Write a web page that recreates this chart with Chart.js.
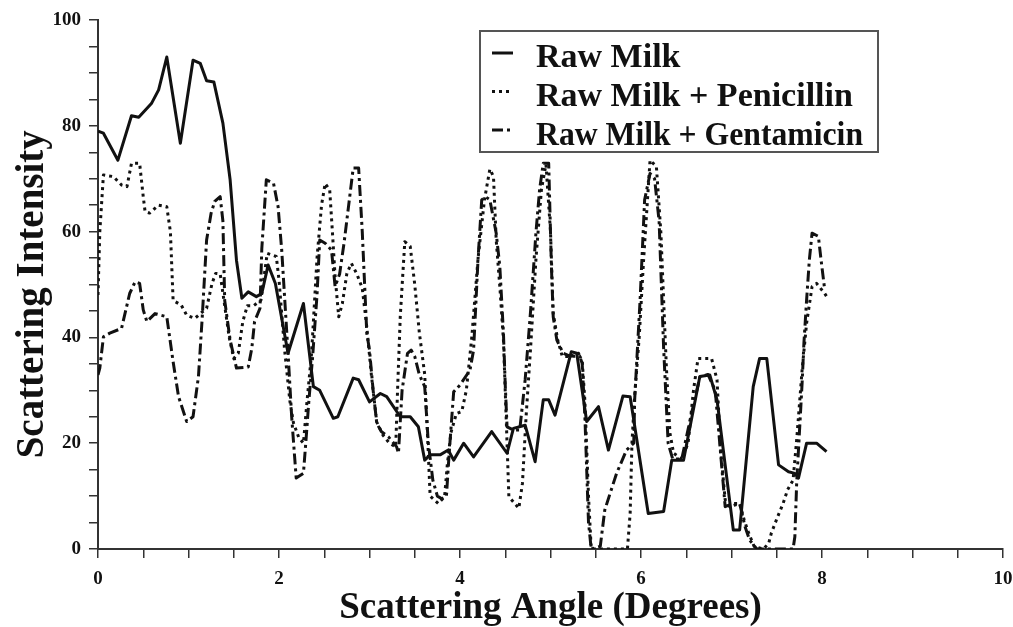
<!DOCTYPE html>
<html>
<head>
<meta charset="utf-8">
<script src="https://cdn.jsdelivr.net/npm/chart.js@4/dist/chart.umd.min.js"></script>
<style>
html,body{margin:0;padding:0;background:#fff;}
#wrap{width:1013px;height:627px;}
</style>
</head>
<body>
<div id="wrap"><canvas id="c" width="1013" height="627"></canvas></div>
<script>
// ---- data ----
const seriesNames = ["Raw Milk", "Raw Milk + Penicillin", "Raw Milk + Gentamicin"];
const xTitle = "Scattering Angle (Degrees)";
const yTitle = "Scattering Intensity";

const rawX = [0,0.06,0.22,0.37,0.45,0.59,0.67,0.76,0.91,1.05,1.13,1.20,1.28,1.38,1.46,1.53,1.59,1.66,1.75,1.81,1.88,1.96,2.10,2.27,2.38,2.45,2.60,2.65,2.82,2.88,3.00,3.12,3.19,3.34,3.45,3.54,3.61,3.67,3.78,3.87,3.93,4.04,4.15,4.35,4.52,4.59,4.72,4.83,4.92,4.98,5.05,5.23,5.29,5.40,5.53,5.64,5.80,5.88,6.08,6.25,6.34,6.47,6.65,6.76,6.84,7.02,7.09,7.24,7.31,7.39,7.52,7.63,7.70,7.74,7.83,7.94,8.05];
const rawY = [79,78.6,73.5,81.9,81.6,84.2,86.8,93,76.7,92.4,91.8,88.5,88.3,80.5,69.8,54.6,47.4,48.6,47.7,48.3,53.7,50.2,37,46.4,30.7,30,24.7,25,32.3,32,27.8,29.4,28.8,25,25,23.1,16.8,17.8,17.8,18.7,16.8,20,17.4,22.2,18.1,22.8,23.4,16.5,28.2,28.2,25.3,37.3,37,24.1,26.9,18.7,28.9,28.8,6.7,7.1,16.8,16.8,32.6,32.9,28.2,3.6,3.6,30.7,36,36,15.9,14.6,14.3,13.4,20,20,18.4];

const penX = [0,0.02,0.06,0.17,0.26,0.32,0.37,0.46,0.50,0.52,0.57,0.67,0.76,0.80,0.83,0.92,0.98,1.07,1.20,1.26,1.30,1.35,1.40,1.45,1.50,1.55,1.60,1.65,1.72,1.80,1.87,1.97,2.00,2.06,2.12,2.16,2.22,2.27,2.31,2.36,2.42,2.47,2.51,2.56,2.59,2.62,2.66,2.70,2.75,2.80,2.86,2.92,2.97,3.02,3.08,3.15,3.22,3.29,3.31,3.34,3.39,3.45,3.50,3.55,3.61,3.64,3.67,3.76,3.83,3.86,3.90,3.96,4.02,4.07,4.13,4.20,4.27,4.33,4.37,4.40,4.44,4.48,4.51,4.54,4.65,4.69,4.73,4.78,4.84,4.90,4.95,5.00,5.03,5.08,5.13,5.22,5.32,5.35,5.38,5.42,5.45,5.85,5.88,5.90,5.93,5.98,6.03,6.10,6.17,6.22,6.28,6.32,6.36,6.45,6.52,6.58,6.63,6.78,6.84,6.88,6.93,6.98,7.09,7.14,7.19,7.25,7.35,7.41,7.44,7.51,7.57,7.62,7.68,7.72,7.78,7.83,7.89,7.94,8.03,8.06];
const penY = [48,60,70.7,70.4,68.8,68.5,72.9,72.9,66.6,63.8,63.5,65,64.7,60,47,46.1,44.2,43.6,45.5,50.2,52.1,52,46,40,36,37,43,46,46,47,55.9,55.3,50.9,38,28,23.8,21,20,28,37,55,65,69.1,67.9,60,51.5,43.9,46.4,52.1,54,52,49.3,42,33,24,21.5,20,19.3,30,44,58.1,57.2,50,41,33,22,10,8.6,9.9,16,22,25.6,26,30,40,55,66,71.8,70.4,58.4,49.6,39.5,25,9.9,7.7,12.4,25,38,55,68,72.7,60,44.5,39.5,36.4,36.4,36.5,35.7,28,10,0,0,6.7,20,29,40,55,73.5,72.3,59.7,34.5,21.9,18.1,17,20,30,36,36,32,18.7,9.3,8,8.6,5.5,3,0.5,0,1,3,6.1,8.6,11.2,13,20.6,33.8,42.7,49.6,50.2,48.3,47.5];

const genX = [0,0.02,0.06,0.13,0.26,0.35,0.41,0.46,0.50,0.54,0.63,0.76,0.83,0.89,0.98,1.05,1.11,1.15,1.20,1.25,1.29,1.35,1.38,1.40,1.46,1.51,1.53,1.66,1.70,1.73,1.79,1.81,1.86,1.94,1.99,2.03,2.10,2.14,2.19,2.27,2.30,2.33,2.37,2.42,2.45,2.51,2.58,2.62,2.67,2.72,2.77,2.82,2.88,2.92,2.97,3.00,3.04,3.08,3.13,3.21,3.30,3.32,3.36,3.42,3.46,3.50,3.55,3.61,3.65,3.70,3.75,3.80,3.85,3.88,3.93,4.00,4.11,4.15,4.20,4.24,4.28,4.33,4.40,4.44,4.48,4.50,4.52,4.59,4.66,4.72,4.78,4.84,4.88,4.92,4.98,5.01,5.03,5.07,5.14,5.22,5.31,5.35,5.38,5.42,5.45,5.55,5.60,5.73,5.84,5.92,5.93,5.99,6.04,6.10,6.15,6.20,6.25,6.30,6.35,6.45,6.55,6.65,6.74,6.82,6.88,6.93,7.02,7.09,7.15,7.20,7.28,7.68,7.70,7.72,7.74,7.78,7.80,7.83,7.86,7.89,7.96,7.99,8.03];
const genY = [32.9,34.2,40.1,40.8,41.7,48.3,50.5,50.2,45.2,43,44.5,43.9,35.4,28.8,24.1,25,32.6,43.3,58.4,63.5,65.7,66.6,62,47,39.5,35.7,34.2,34.4,38,43,45.5,56.8,69.8,69.1,64.7,56.5,37,25,13.4,14.3,21,28,36,48,58.4,57.8,56.5,49.6,52,58,65,72,72,60,40.8,37.6,30,23.8,22.2,21.2,19.3,18.1,30,37,37.6,36.4,33,30.7,20,13,10,9.5,10,18,29.7,31,33.8,37.6,55,66,66.6,66,59.7,53.4,40.8,31,23.1,22.5,22.5,32,45,60,68,72.9,72.9,53.4,43.9,39.5,37,36.4,37,35.1,25,5,0,0.5,7.4,14.3,18.7,20,28.2,47.1,66,71,70,62,38,20,17,17,25,32.5,33,30,18,8,8.6,8.6,4.2,1.7,0,0,2.3,12.4,18.7,31.3,38.9,47.1,54.6,59.7,59.1,54.6,49];

const xMin = 0, xMax = 10, xStep = 0.5, xLabelEvery = 2;
const yMin = 0, yMax = 100, yStep = 5, yLabelEvery = 20;

const toPts = (xs, ys) => xs.map((x, i) => ({x: x, y: ys[i]}));

const dashStyles = [[], [3, 4], [11, 4, 3, 4]];
const serif = "'Liberation Serif', 'Times New Roman', serif";

// legend drawn inside plot (boxed, upper right)
const boxLegend = {
  id: 'boxLegend',
  afterDraw(chart) {
    const ctx = chart.ctx;
    const L = 480, T = 31, R = 878, B = 152;
    ctx.save();
    ctx.fillStyle = '#fff';
    ctx.fillRect(L, T, R - L, B - T);
    ctx.strokeStyle = '#555';
    ctx.lineWidth = 2;
    ctx.strokeRect(L, T, R - L, B - T);
    ctx.font = 'bold 34px ' + serif;
    ctx.textBaseline = 'alphabetic';
    ctx.fillStyle = '#111';
    chart.data.datasets.forEach((ds, i) => {
      const ly = 53 + i * 38.5;
      ctx.beginPath();
      ctx.setLineDash(ds.borderDash || []);
      ctx.lineWidth = 3;
      ctx.strokeStyle = '#111';
      ctx.moveTo(492, ly);
      ctx.lineTo(513, ly);
      ctx.stroke();
      ctx.setLineDash([]);
      ctx.fillText(ds.label, 536, 66.5 + i * 39, 327);
    });
    ctx.restore();
  }
};

new Chart(document.getElementById('c'), {
  type: 'line',
  data: {
    datasets: [
      {label: seriesNames[0], data: toPts(rawX, rawY), borderDash: dashStyles[0]},
      {label: seriesNames[1], data: toPts(penX, penY), borderDash: dashStyles[1]},
      {label: seriesNames[2], data: toPts(genX, genY), borderDash: dashStyles[2]}
    ].map(d => Object.assign(d, {
      borderColor: '#111', borderWidth: 3, pointRadius: 0, tension: 0,
      fill: false, borderCapStyle: 'butt', borderJoinStyle: 'round'
    }))
  },
  options: {
    responsive: false,
    animation: false,
    devicePixelRatio: 1,
    layout: {padding: {top: 20, right: 0, left: 0, bottom: 0}},
    plugins: {legend: {display: false}, tooltip: {enabled: false}},
    scales: {
      x: {
        type: 'linear', min: xMin, max: xMax,
        afterFit(s) { s.height = 78; s.paddingRight = 10; },
        border: {display: true, color: '#333', width: 2},
        grid: {drawOnChartArea: false, drawTicks: true, tickLength: 9, color: '#333', lineWidth: 1.5},
        ticks: {
          stepSize: xStep, autoSkip: false, maxRotation: 0, padding: 10, color: '#111',
          font: {family: serif, size: 19, weight: 'bold'},
          callback: v => (Math.abs(v % xLabelEvery) < 1e-9 ? String(v) : '')
        },
        title: {display: true, text: xTitle, color: '#111', padding: {top: 0, bottom: -4},
          font: {family: serif, size: 37, weight: 'bold'}}
      },
      y: {
        type: 'linear', min: yMin, max: yMax,
        afterFit(s) { s.width = 98; },
        border: {display: true, color: '#333', width: 2},
        grid: {drawOnChartArea: false, drawTicks: true, tickLength: 9, color: '#333', lineWidth: 1.5},
        ticks: {
          stepSize: yStep, autoSkip: false, padding: 8, color: '#111',
          font: {family: serif, size: 19, weight: 'bold'},
          callback: v => (v % yLabelEvery === 0 ? String(v) : '')
        },
        title: {display: true, text: yTitle + '  ', color: '#111', padding: {top: 10, bottom: 0},
          font: {family: serif, size: 39, weight: 'bold'}}
      }
    }
  },
  plugins: [boxLegend]
});
</script>
</body>
</html>
